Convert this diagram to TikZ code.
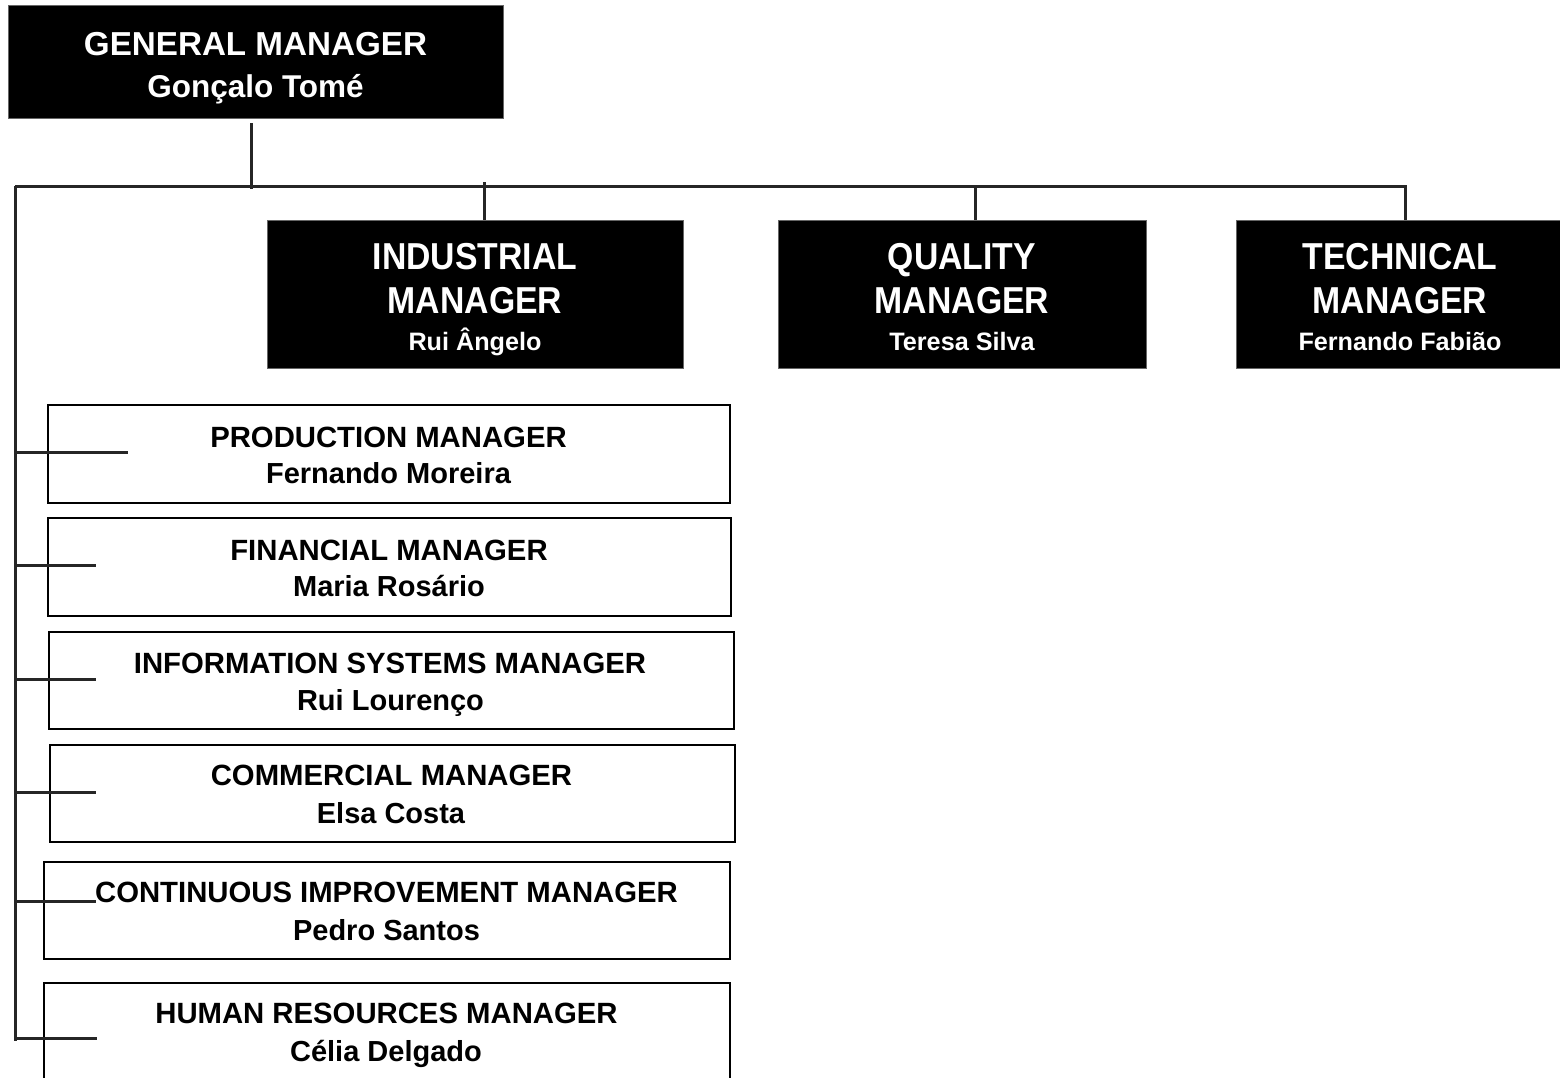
\documentclass[tikz,border=0pt]{standalone}
\usepackage{fontspec}
\setmainfont{Liberation Sans}
\newfontfamily\tallfont[FakeStretch=0.9]{Liberation Sans}
\usetikzlibrary{calc}
\begin{document}
\begin{tikzpicture}[x=1pt,y=-1pt,
  blk/.style={draw=black!60, line width=1pt, fill=black, inner sep=0pt, anchor=north west},
  wbox/.style={draw=black, line width=2.2pt, fill=white, inner sep=0pt, anchor=north west},
  conn/.style={draw=black!85, line width=3pt},
  txt/.style={anchor=base, inner sep=0pt},
  gmtitle/.style={txt, text=white, font=\fontsize{33.2}{39}\selectfont\bfseries},
  gmname/.style={txt, text=white, font=\fontsize{31.5}{38}\selectfont\bfseries},
  toptitle/.style={txt, text=white, font=\tallfont\fontsize{37.5}{44}\selectfont\bfseries},
  topname/.style={txt, text=white, font=\fontsize{25.2}{30}\selectfont\bfseries},
  ltitle/.style={txt, text=black, font=\fontsize{29.3}{35}\selectfont\bfseries},
  lname/.style={txt, text=black, font=\fontsize{29}{35}\selectfont\bfseries}]
\clip (0,0) rectangle (1560,1077);
\fill[white] (0,0) rectangle (1560,1077);

% coordinates for connector ends
\coordinate (gmdrop) at (251,123);
\coordinate (busL) at (15,186);
\coordinate (busR) at (1405,186);
\coordinate (dI) at (484,182);
\coordinate (dQ) at (975,186);
\coordinate (lend) at (15,1041);

% top boxes
\node[blk, minimum width=495pt, minimum height=113pt] (gm) at (8,5) {};
\node[blk, minimum width=416pt, minimum height=148pt] (ind) at (267,220) {};
\node[blk, minimum width=368pt, minimum height=148pt] (qual) at (778,220) {};
\node[blk, minimum width=328pt, minimum height=148pt] (tech) at (1236,220) {};

% connectors
\draw[conn] (gmdrop) -- ($(gmdrop |- busL)+(0,3)$);
\draw[conn] (busL) -- (busR) -- (busR |- tech.north);
\draw[conn] (dI) -- (dI |- ind.north);
\draw[conn] (dQ) -- (dQ |- qual.north);
\draw[conn] (busL) -- (lend);

% texts of top boxes
\node[gmtitle] (gmT) at (255.5,55) {GENERAL MANAGER};
\node[gmname] (gmN) at (255.5,97) {Gonçalo Tomé};

\node[toptitle] (indT1) at (475,269) {INDUSTRIAL};
\node[toptitle] (indT2) at (475,313) {MANAGER};
\node[topname] (indN) at (475,350) {Rui Ângelo};

\node[toptitle] (qualT1) at (962,269) {QUALITY};
\node[toptitle] (qualT2) at (962,313) {MANAGER};
\node[topname] (qualN) at (962,350) {Teresa Silva};

\node[toptitle] (techT1) at (1400,269) {TECHNICAL};
\node[toptitle] (techT2) at (1400,313) {MANAGER};
\node[topname] (techN) at (1400,350) {Fernando Fabião};

% left boxes
\node[wbox, minimum width=682pt, minimum height=98pt] (prod) at (47,404) {};
\node[wbox, minimum width=683pt, minimum height=98pt] (fin) at (47,517) {};
\node[wbox, minimum width=685pt, minimum height=97pt] (is) at (48,631) {};
\node[wbox, minimum width=685pt, minimum height=97pt] (com) at (49,744) {};
\node[wbox, minimum width=686pt, minimum height=97pt] (cont) at (43,861) {};
\node[wbox, minimum width=686pt, minimum height=120pt] (hr) at (43,982) {};

\node[ltitle] (prodT) at (388.5,447) {PRODUCTION MANAGER};
\node[lname] (prodN) at (388.5,483) {Fernando Moreira};
\node[ltitle] (finT) at (389,560) {FINANCIAL MANAGER};
\node[lname] (finN) at (389,596) {Maria Rosário};
\node[ltitle] (isT) at (390,673) {INFORMATION SYSTEMS MANAGER};
\node[lname] (isN) at (390.5,710) {Rui Lourenço};
\node[ltitle] (comT) at (391.5,785) {COMMERCIAL MANAGER};
\node[lname] (comN) at (391,823) {Elsa Costa};
\node[ltitle] (contT) at (386.5,902) {CONTINUOUS IMPROVEMENT MANAGER};
\node[lname] (contN) at (386.5,940) {Pedro Santos};
\node[ltitle] (hrT) at (386.5,1023) {HUMAN RESOURCES MANAGER};
\node[lname] (hrN) at (386,1061) {Célia Delgado};

% stubs
\coordinate (sProd) at (15,452.7);
\coordinate (sFin) at (15,565.7);
\coordinate (sIs) at (15,679.7);
\coordinate (sCom) at (15,792);
\coordinate (sCont) at (15,901);
\coordinate (sHr) at (15,1038);
\draw[conn] (sProd) -- ++(113,0);
\draw[conn] (sFin) -- ++(81,0);
\draw[conn] (sIs) -- ++(81,0);
\draw[conn] (sCom) -- ++(81,0);
\draw[conn] (sCont) -- ++(81,0);
\draw[conn] (sHr) -- ++(82,0);
\end{tikzpicture}
\end{document}
